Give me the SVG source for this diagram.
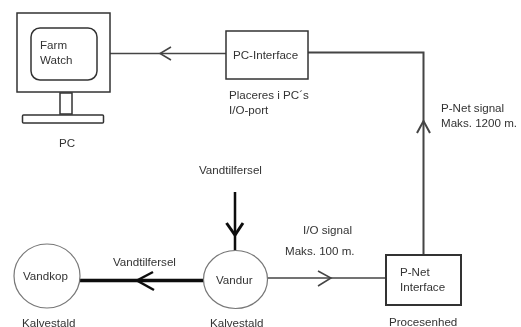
<svg xmlns="http://www.w3.org/2000/svg" width="521" height="327" viewBox="0 0 521 327">
<style>
text{font-family:"Liberation Sans",Arial,sans-serif;font-size:11.6px;fill:#333}
.b{fill:#fff;stroke:#333;stroke-width:1.5}
.c{fill:#fff;stroke:#777;stroke-width:1.2}
.l{fill:none;stroke:#444;stroke-width:1.5}
.t{fill:none;stroke:#111;stroke-width:3}
</style>
<defs><filter id="s" x="-5%" y="-5%" width="110%" height="110%"><feGaussianBlur stdDeviation="0.45"/></filter></defs>
<rect width="521" height="327" fill="#fff"/>
<g filter="url(#s)">
<g id="connectors">
<path class="l" d="M110 53.500H226"/>
<path class="l" d="M171 47L160 53.500L171 60"/>
<path class="l" style="stroke-width:2" d="M308 52.500H423.500V255"/>
<path class="l" style="stroke-width:2" d="M417 133L423.500 121L430 133"/>
<path class="l" d="M267 278H386"/>
<path class="l" d="M318 271L331 278L318 286"/>
<path class="t" style="stroke-width:2.500" d="M235 192V251"/>
<path class="t" d="M226.500 223L235 235L243 223"/>
<path class="t" style="stroke-width:3.500" d="M78 280.500H205"/>
<path class="t" style="stroke-width:2.500" d="M153 272L137 280.500L154 290"/>
</g>
<g id="pc">
<rect class="b" x="17" y="13" width="93" height="79"/>
<rect class="b" x="31" y="28" width="66" height="52" rx="9"/>
<rect class="b" x="60" y="93" width="12" height="21"/>
<rect class="b" x="22.500" y="115" width="81" height="8" rx="1"/>
<text x="40" y="49">Farm</text>
<text x="40" y="64">Watch</text>
<text x="59" y="147">PC</text>
</g>
<g id="pc-interface">
<rect class="b" x="226" y="31" width="82" height="48"/>
<text x="233" y="59">PC-Interface</text>
<text x="229" y="99">Placeres i PC´s</text>
<text x="229" y="114">I/O-port</text>
</g>
<g id="p-net-interface">
<rect class="b" style="stroke-width:2" x="386" y="255" width="75" height="50"/>
<text x="400" y="276">P-Net</text>
<text x="400" y="291">Interface</text>
<text x="389" y="326">Procesenhed</text>
</g>
<g id="vandkop">
<ellipse class="c" cx="47" cy="276" rx="33" ry="32"/>
<text x="23" y="280">Vandkop</text>
<text x="22" y="326.500">Kalvestald</text>
</g>
<g id="vandur">
<ellipse class="c" cx="235.500" cy="279.500" rx="32" ry="29"/>
<text x="216" y="284">Vandur</text>
<text x="210" y="326.500">Kalvestald</text>
</g>
<g id="labels">
<text x="199" y="174">Vandtilfersel</text>
<text x="113" y="266">Vandtilfersel</text>
<text x="303" y="234">I/O signal</text>
<text x="285" y="255">Maks. 100 m.</text>
<text x="441" y="112">P-Net signal</text>
<text x="441" y="127">Maks. 1200 m.</text>
</g>
</g>
</svg>
